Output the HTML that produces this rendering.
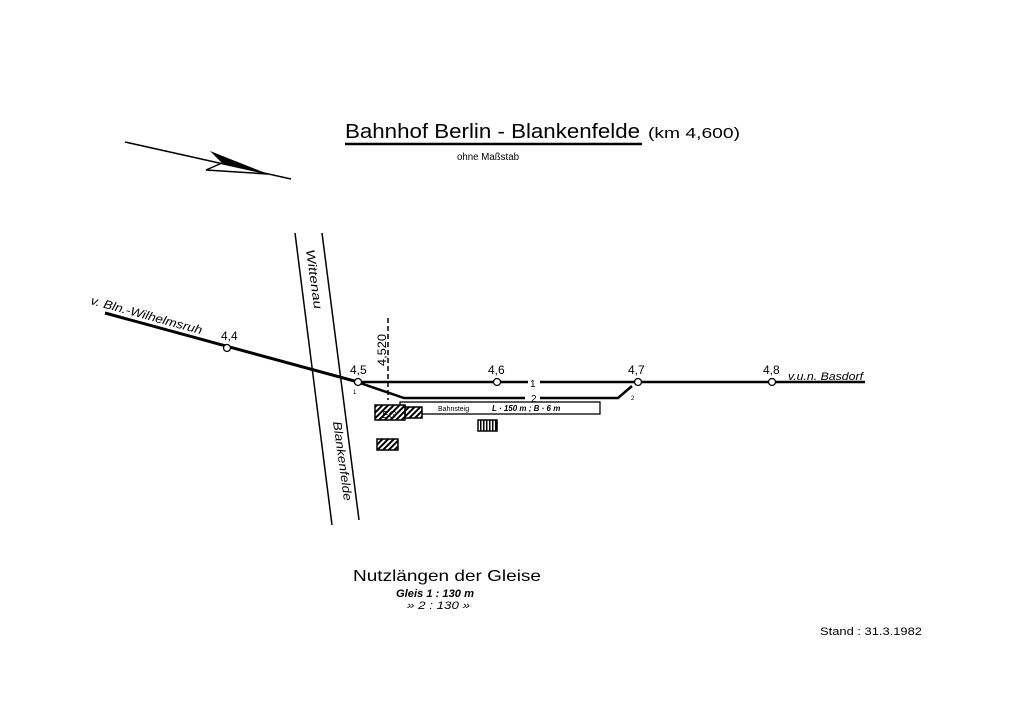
<!DOCTYPE html>
<html><head><meta charset="utf-8"><style>
body{margin:0;background:#fff;}
svg{display:block;font-family:"Liberation Sans",sans-serif;}
</style></head><body>
<svg width="1024" height="724" viewBox="0 0 1024 724" xmlns="http://www.w3.org/2000/svg">
<defs>
<pattern id="h" width="4" height="4" patternUnits="userSpaceOnUse" patternTransform="rotate(45)">
<rect width="4" height="4" fill="#fff"/><rect width="2" height="4" fill="#000"/></pattern>
<pattern id="v" width="3" height="4" patternUnits="userSpaceOnUse">
<rect width="3" height="4" fill="#fff"/><rect width="1.5" height="4" fill="#000"/></pattern>
</defs>
<!-- title -->
<text x="345" y="138" font-size="20" fill="#000" textLength="295" lengthAdjust="spacingAndGlyphs">Bahnhof  Berlin - Blankenfelde</text>
<text x="648" y="138" font-size="15" fill="#000" textLength="92" lengthAdjust="spacingAndGlyphs">(km 4,600)</text>
<line x1="345" y1="144" x2="642" y2="144" stroke="#000" stroke-width="2.5"/>
<text x="457" y="160" font-size="10" fill="#000" textLength="62" lengthAdjust="spacingAndGlyphs">ohne Maßstab</text>
<!-- north arrow -->
<line x1="125" y1="142" x2="291" y2="179" stroke="#000" stroke-width="1.5"/>
<polygon points="210,151 268,174 222,163" fill="#000"/>
<polyline points="222,163 206,170 268,174" fill="none" stroke="#000" stroke-width="1.5"/>
<!-- road -->
<line x1="295" y1="233" x2="332" y2="525" stroke="#000" stroke-width="1.5"/>
<line x1="322" y1="233" x2="359" y2="520" stroke="#000" stroke-width="1.5"/>
<text transform="translate(306,250) rotate(82)" font-size="12" font-style="italic" textLength="60" lengthAdjust="spacingAndGlyphs">Wittenau</text>
<text transform="translate(333,422) rotate(82)" font-size="12" font-style="italic" textLength="80" lengthAdjust="spacingAndGlyphs">Blankenfelde</text>
<!-- tracks -->
<line x1="105" y1="313" x2="358" y2="382" stroke="#000" stroke-width="3"/>
<line x1="358" y1="382" x2="528" y2="382" stroke="#000" stroke-width="2.5"/>
<line x1="540" y1="382" x2="865" y2="382" stroke="#000" stroke-width="2.5"/>
<polyline points="360,383 404,398 525,398" fill="none" stroke="#000" stroke-width="2.5"/>
<polyline points="540,398 618,398 632,386" fill="none" stroke="#000" stroke-width="2.5"/>
<text x="530" y="387" font-size="10">1</text>
<text x="531" y="402" font-size="10">2</text>
<text x="353" y="394" font-size="6">1</text>
<text x="631" y="400" font-size="6">2</text>
<line x1="388" y1="318" x2="388" y2="400" stroke="#000" stroke-width="1.5" stroke-dasharray="5,3"/>
<text transform="translate(386,366) rotate(-90)" font-size="12" textLength="32" lengthAdjust="spacingAndGlyphs">4,520</text>
<g fill="#fff" stroke="#000" stroke-width="1.3">
<circle cx="227" cy="348" r="3.5"/><circle cx="358" cy="382" r="3.5"/>
<circle cx="497" cy="382" r="3.5"/><circle cx="638" cy="382" r="3.5"/><circle cx="772" cy="382" r="3.5"/>
</g>
<g font-size="12">
<text x="221" y="340">4,4</text><text x="350" y="374">4,5</text>
<text x="488" y="374">4,6</text><text x="628" y="374">4,7</text><text x="763" y="374">4,8</text>
</g>
<text x="788" y="380" font-size="11" font-style="italic" textLength="75" lengthAdjust="spacingAndGlyphs">v.u.n. Basdorf</text>
<text transform="translate(90,304) rotate(15.3)" font-size="12" font-style="italic" textLength="115" lengthAdjust="spacingAndGlyphs">v. Bln.-Wilhelmsruh</text>
<!-- platform and buildings -->
<rect x="400" y="402" width="200" height="12" fill="#fff" stroke="#000" stroke-width="1.3"/>
<text x="438" y="411" font-size="7">Bahnsteig</text>
<text x="492" y="411" font-size="8" font-style="italic" font-weight="bold">L · 150 m ;  B · 6 m</text>
<rect x="405" y="407" width="17" height="11" fill="url(#h)" stroke="#000" stroke-width="1.5"/>
<rect x="375" y="405" width="30" height="15" fill="url(#h)" stroke="#000" stroke-width="1.5"/>
<text x="382" y="418" font-size="10" font-style="italic">EG</text>
<rect x="478" y="420" width="19" height="11" fill="url(#v)" stroke="#000" stroke-width="1.5"/>
<rect x="377" y="439" width="21" height="11" fill="url(#h)" stroke="#000" stroke-width="1.5"/>
<!-- bottom -->
<text x="353" y="581" font-size="16" textLength="188" lengthAdjust="spacingAndGlyphs">Nutzlängen der Gleise</text>
<text x="396" y="597" font-size="11" font-style="italic" font-weight="bold" textLength="78" lengthAdjust="spacingAndGlyphs">Gleis  1 : 130 m</text>
<text x="407" y="609" font-size="11" font-style="italic" textLength="63" lengthAdjust="spacingAndGlyphs">»    2 : 130  »</text>
<text x="820" y="635" font-size="11" textLength="102" lengthAdjust="spacingAndGlyphs">Stand : 31.3.1982</text>
</svg>
</body></html>
